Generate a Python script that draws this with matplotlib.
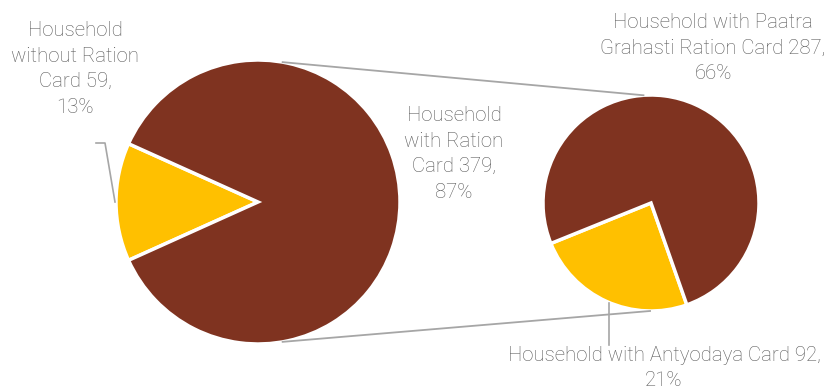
import matplotlib
matplotlib.use("Agg")
import matplotlib.pyplot as plt
import numpy as np

# main pie: without card vs with card
main_labels = ["Household\nwithout Ration\nCard 59,\n13%", "Household\nwith Ration\nCard 379,\n87%"]
main_values = [59, 379]
# sub pie: split of the households with card
sub_labels = ["Household with Antyodaya Card 92,\n21%", "Household with Paatra\nGrahasti Ration Card 287,\n66%"]
sub_values = [92, 287]

yellow = "#FFC000"
brown = "#7F3320"
txt = "#595959"
line_c = "#A6A6A6"

plt.rcParams["font.family"] = ["Roboto", "DejaVu Sans"]

fig = plt.figure(figsize=(8.25, 3.9), dpi=100)
ax = fig.add_axes([0, 0, 1, 1])

c1, r1 = (258, 188), 142
c2, r2 = (651, 187), 108

total = sum(main_values)
start1 = 180 - main_values[0] / total * 360 / 2
ax.pie(main_values, colors=[yellow, brown], startangle=start1, center=c1, radius=r1,
       wedgeprops=dict(edgecolor="white", linewidth=2.5))
ax.pie(sub_values, colors=[yellow, brown], startangle=202, center=c2, radius=r2,
       wedgeprops=dict(edgecolor="white", linewidth=2.5))

def pt(c, r, a):
    a = np.radians(a)
    return c[0] + r * np.cos(a), c[1] + r * np.sin(a)

# connector lines between the two pies
for a1, a2 in [(80, 94), (-80, -90.5)]:
    p1 = pt(c1, r1, a1)
    p2 = pt(c2, r2, a2)
    ax.plot([p1[0], p2[0]], [p1[1], p2[1]], color=line_c, lw=1.3)

kw = dict(color=txt, fontsize=14.7, fontweight="light", ha="center", va="center", linespacing=1.43)
ax.text(75, 321, main_labels[0], **kw)
ax.text(454, 236, main_labels[1], **kw)
ax.text(713, 342, sub_labels[1], **kw)
ax.text(664, 22, sub_labels[0], **kw)

# leader lines
ax.plot([96, 105, 115], [247, 247, 188], color=line_c, lw=1.2)
ax.plot([609, 609], [87, 45], color=line_c, lw=1.2)

ax.set_xlim(0, 825)
ax.set_ylim(0, 390)
ax.set_aspect("equal")
ax.axis("off")

fig.savefig("out.png", dpi=100)
